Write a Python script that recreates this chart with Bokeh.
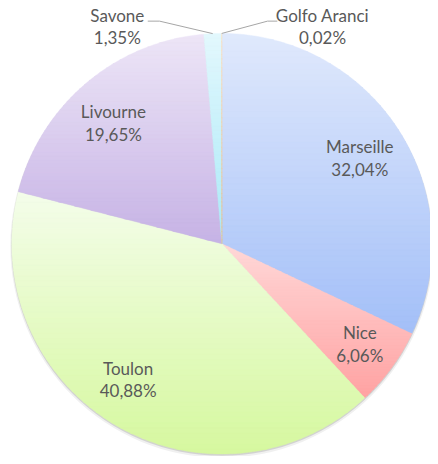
import math
from bokeh.plotting import figure
from bokeh.models import Range1d, ColumnDataSource
from bokeh.core.properties import value
from bokeh.embed import file_html
from bokeh.resources import INLINE

# ---- data ----
ports = ["Marseille", "Nice", "Toulon", "Livourne", "Savone", "Golfo Aranci"]
shares = [32.04, 6.06, 40.88, 19.65, 1.35, 0.02]

# ---- style / layout ----
top_colors = ["#e0e9fc", "#ffd8d8", "#f4fdea", "#ede6f7", "#e3f8fd", "#fde3c6"]
bottom_colors = ["#a3bff8", "#ffa2a2", "#d6f89f", "#c6b2e5", "#a9e9f8", "#f9b87a"]
label_pos = [(366, 149), (366, 338), (130, 374), (115, 113), (119, 15), (328, 15)]
CX, CY, R = 225.5, 247.5, 214.0
W, H = 430, 456

p = figure(width=W, height=H, x_range=Range1d(0, 438), y_range=Range1d(464, 0),
           output_backend="svg", toolbar_location=None,
           x_axis_location=None, y_axis_location=None, min_border=0)
p.grid.visible = False
p.outline_line_color = None
p.background_fill_color = "white"
p.border_fill_color = "white"


def hex2rgb(h):
    h = h.lstrip("#")
    return tuple(int(h[i:i + 2], 16) for i in (0, 2, 4))


def mix(c1, c2, t):
    a, b = hex2rgb(c1), hex2rgb(c2)
    return "#%02x%02x%02x" % tuple(int(round(a[i] + (b[i] - a[i]) * t)) for i in range(3))


def pt(theta_deg, r=R):
    t = math.radians(theta_deg)
    return (CX + r * math.sin(t), CY - r * math.cos(t))


def clip_y(pts, y0, keep_ge):
    out = []
    n = len(pts)
    for i in range(n):
        a = pts[i]
        b = pts[(i + 1) % n]
        ina = a[1] >= y0 if keep_ge else a[1] <= y0
        inb = b[1] >= y0 if keep_ge else b[1] <= y0
        if ina:
            out.append(a)
        if ina != inb:
            t = (y0 - a[1]) / (b[1] - a[1])
            out.append((a[0] + t * (b[0] - a[0]), y0))
    return out


# soft shadow
p.circle(x=[CX], y=[CY + 2.5], radius=R + 1.5, fill_color="#000000", fill_alpha=0.06, line_color=None)
p.circle(x=[CX], y=[CY + 1.5], radius=R + 0.5, fill_color="#000000", fill_alpha=0.12, line_color=None)

total = sum(shares)
xs, ys, cols = [], [], []
cum = 0.0
mids = []
for i, s in enumerate(shares):
    a0 = cum / total * 360.0
    a1 = (cum + s) / total * 360.0
    cum += s
    mids.append((a0 + a1) / 2)
    nseg = max(2, int((a1 - a0) / 1.0) + 2)
    poly = [(CX, CY)] + [pt(a0 + (a1 - a0) * k / nseg) for k in range(nseg + 1)]
    ymin = min(q[1] for q in poly)
    ymax = max(q[1] for q in poly)
    N = 50
    h = (ymax - ymin) / N
    for k in range(N):
        y0 = ymin + k * h
        y1 = y0 + h + 0.6
        band = clip_y(clip_y(poly, y0, True), y1, False)
        if len(band) < 3:
            continue
        xs.append([q[0] for q in band])
        ys.append([q[1] for q in band])
        cols.append(mix(top_colors[i], bottom_colors[i], (k + 0.5) / N))

src = ColumnDataSource(dict(xs=xs, ys=ys, c=cols))
p.patches("xs", "ys", source=src, fill_color="c", line_color="c", line_width=0.4)

# leader lines for small slices
sx, sy = pt(mids[4])
p.line([150, 162, sx], [21, 21, sy], line_color="#a6a6a6", line_width=1)
gx, gy = pt(mids[5])
p.line([gx, 272, 282], [gy, 21, 21], line_color="#a6a6a6", line_width=1)

# labels
names = ports
pcts = [("%.2f" % s).replace(".", ",") + "%" for s in shares]
lx = [q[0] for q in label_pos]
ly1 = [q[1] for q in label_pos]
ly2 = [q[1] + 23 for q in label_pos]
for yy, tt in ((ly1, names), (ly2, pcts)):
    p.text(x=lx, y=yy, text=tt, text_font=value("Lato"), text_font_size="17px",
           text_color="#595959", text_align="center", text_baseline="middle")

open("out.html", "w").write(file_html(p, INLINE))
